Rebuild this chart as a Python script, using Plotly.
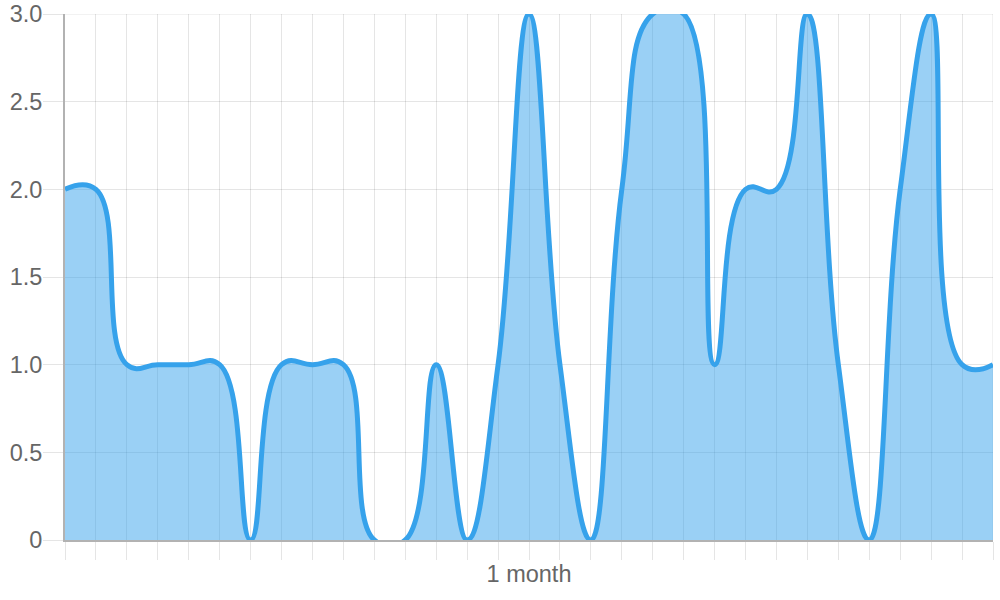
import plotly.graph_objects as go

days = list(range(31))
values = [2, 2, 1, 1, 1, 1, 0, 1, 1, 1, 0, 0, 1, 0, 1, 3, 1, 0, 2, 3, 3, 1, 2, 2, 3, 1, 0, 2, 3, 1, 1]
x_tick_text = ["" for _ in days]
x_tick_text[15] = "1 month"
y_tick_vals = [0, 0.5, 1, 1.5, 2, 2.5, 3]
y_tick_text = ["0", "0.5", "1.0", "1.5", "2.0", "2.5", "3.0"]

fig = go.Figure()
fig.add_trace(go.Scatter(
    x=days, y=values, mode="lines",
    line=dict(color="rgb(54,162,235)", width=5, shape="spline", smoothing=1.3),
    fill="tozeroy", fillcolor="rgba(54,162,235,0.5)",
    hoverinfo="skip", showlegend=False,
))

grid_color = "rgba(0,0,0,0.1)"
# edge grid lines (plotly omits grid lines on the plot-area border)
fig.add_shape(type="line", xref="paper", yref="y", x0=0, x1=1, y0=y_tick_vals[-1], y1=y_tick_vals[-1],
              line=dict(color=grid_color, width=1), layer="below")
fig.add_shape(type="line", xref="x", yref="paper", x0=days[-1], x1=days[-1], y0=0, y1=1,
              line=dict(color=grid_color, width=1), layer="below")

font = dict(family="Liberation Sans, Arial, sans-serif", size=23.5, color="#666")
fig.update_layout(
    width=1000, height=600,
    margin=dict(l=65, r=7, t=14, b=60),
    plot_bgcolor="white", paper_bgcolor="white",
    font=font,
)
fig.update_xaxes(
    range=[0, 30], tickvals=days, ticktext=x_tick_text,
    showgrid=True, gridcolor=grid_color, gridwidth=1,
    ticks="outside", ticklen=18, tickcolor=grid_color, tickwidth=1,
    showline=True, linecolor="rgba(0,0,0,0.3)", linewidth=2,
    zeroline=False, tickfont=font, fixedrange=True, automargin=False,
    ticklabelstandoff=-6,
)
fig.update_yaxes(
    range=[0, 3], tickvals=y_tick_vals, ticktext=y_tick_text,
    showgrid=True, gridcolor=grid_color, gridwidth=1,
    ticks="outside", ticklen=20, tickcolor=grid_color, tickwidth=1,
    showline=True, linecolor="rgba(0,0,0,0.3)", linewidth=2,
    zeroline=False, tickfont=font, fixedrange=True, automargin=False,
    ticklabelstandoff=-4,
)
fig.write_html("out.html", config={"displayModeBar": False},
               post_script="document.body.style.margin='0';document.body.style.overflow='hidden';")
